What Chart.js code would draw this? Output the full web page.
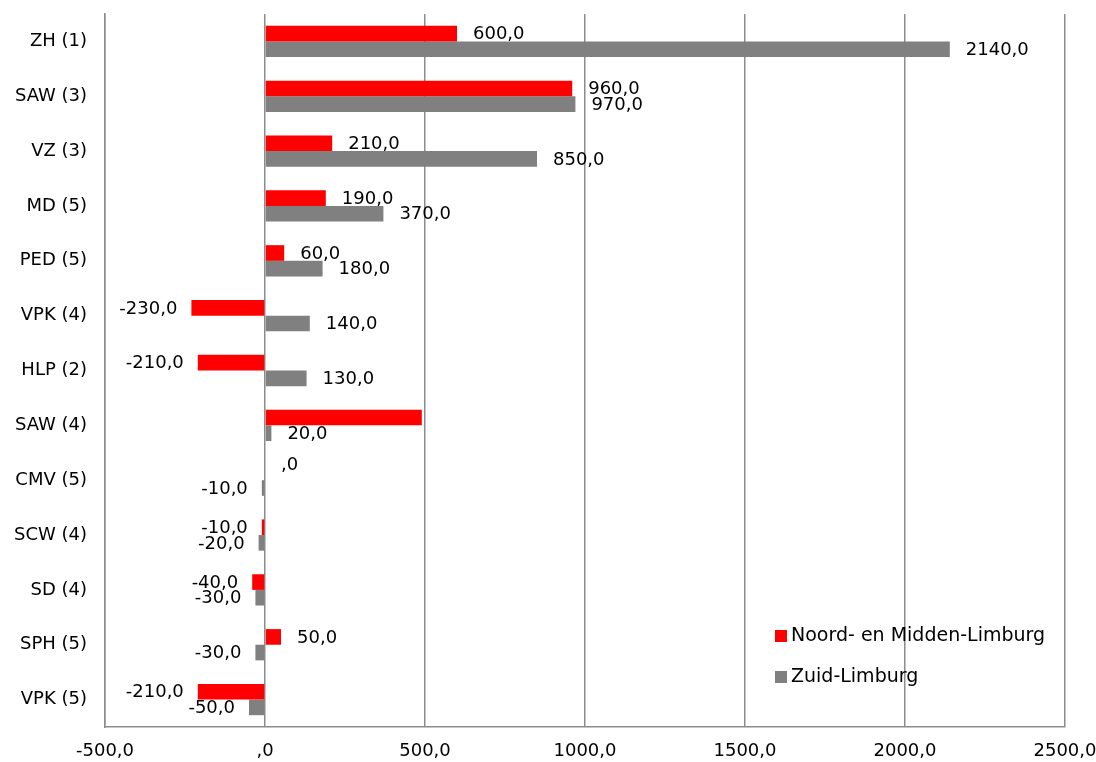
<!DOCTYPE html>
<html><head><meta charset="utf-8">
<script src="https://cdn.jsdelivr.net/npm/chart.js@4.4.1/dist/chart.umd.min.js"></script>
<style>html,body{margin:0;padding:0;background:#fff}#wrap{width:1096px;height:762px}</style>
</head><body><div id="wrap"><canvas id="c" width="1096" height="762"></canvas></div>
<script>
const categories = ["ZH (1)","SAW (3)","VZ (3)","MD (5)","PED (5)","VPK (4)","HLP (2)","SAW (4)","CMV (5)","SCW (4)","SD (4)","SPH (5)","VPK (5)"];
const noordMidden = [600,960,210,190,60,-230,-210,490,0,-10,-40,50,-210];
const zuid = [2140,970,850,370,180,140,130,20,-10,-20,-30,-30,-50];
const noordMiddenLabelShown = [true,true,true,true,true,true,true,false,true,true,true,true,true];
const zuidLabelShown = [true,true,true,true,true,true,true,true,true,true,true,true,true];
const xTicks = [-500,0,500,1000,1500,2000,2500];
const seriesNames = ["Noord- en Midden-Limburg","Zuid-Limburg"];
const seriesColors = ["#ff0000","#808080"];

const FONT = "DejaVu Sans";
function fmt(v){ if(v===0) return ",0"; return v.toFixed(1).replace(".",","); }

const labelPlugin = {
  id:'vals',
  afterDatasetsDraw(chart){
    const ctx = chart.ctx;
    ctx.save();
    ctx.font = "18px '"+FONT+"'";
    ctx.fillStyle = "#000";
    ctx.textBaseline = "middle";
    const shown = [noordMiddenLabelShown, zuidLabelShown];
    chart.data.datasets.forEach((ds,di)=>{
      const meta = chart.getDatasetMeta(di);
      meta.data.forEach((bar,i)=>{
        if(!shown[di][i]) return;
        const v = ds.data[i];
        const zero = chart.scales.x.getPixelForValue(0);
        let y = bar.y + 1;
        if(v>=0){ ctx.textAlign="left"; ctx.fillText(fmt(v), Math.max(bar.x,zero)+16, y + (v===0?-8:0)); }
        else { ctx.textAlign="right"; ctx.fillText(fmt(v), bar.x-14, y); }
      });
    });
    // legend inside plot
    const lx = 775, ly = [636, 677];
    ctx.textAlign="left";
    ctx.font = "19px '"+FONT+"'";
    seriesNames.forEach((n,k)=>{
      ctx.fillStyle = seriesColors[k];
      ctx.fillRect(lx, ly[k]-6, 12, 12);
      ctx.fillStyle = "#000";
      ctx.fillText(n, lx+16, ly[k]);
    });
    ctx.restore();
  }
};

new Chart(document.getElementById('c'), {
  type:'bar',
  data:{
    labels:categories,
    datasets:[
      {label:seriesNames[0], data:noordMidden, backgroundColor:seriesColors[0], categoryPercentage:0.57, barPercentage:1.0},
      {label:seriesNames[1], data:zuid, backgroundColor:seriesColors[1], categoryPercentage:0.57, barPercentage:1.0}
    ]
  },
  options:{
    indexAxis:'y',
    responsive:false,
    animation:false,
    devicePixelRatio:1,
    layout:{padding:{left:0,right:31,top:14,bottom:0}},
    plugins:{legend:{display:false},tooltip:{enabled:false}},
    scales:{
      x:{
        min:-500,max:2500,
        afterBuildTicks(s){ s.ticks = xTicks.map(v=>({value:v})); },
        afterFit(s){ s.height = 35; s.paddingLeft = 0; s.paddingRight = 0; },
        ticks:{callback:(v)=>fmt(v), color:"#000", font:{family:FONT,size:18}, padding:14, maxRotation:0},
        grid:{color:"#8c8c8c", lineWidth:1.5, drawTicks:false},
        border:{color:"#8c8c8c", width:1.5}
      },
      y:{
        afterFit(s){ s.width = 105; s.paddingTop = 0; s.paddingBottom = 0; },
        ticks:{color:"#000", font:{family:FONT,size:18}, padding:18},
        grid:{display:false, drawTicks:false},
        border:{color:"#8c8c8c", width:1.5}
      }
    }
  },
  plugins:[labelPlugin]
});
</script></body></html>
